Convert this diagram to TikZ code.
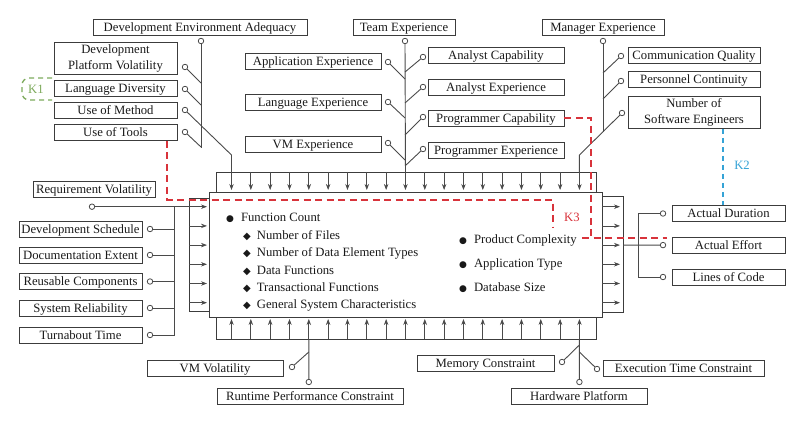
\documentclass[tikz,border=0pt]{standalone}
\usepackage{fontspec}
\setmainfont{Liberation Serif}
\newfontfamily\symf{DejaVu Sans}
\usetikzlibrary{arrows.meta}
\definecolor{boxgray}{HTML}{3C3C3C}
\definecolor{wiregray}{HTML}{4A4A4A}
\definecolor{kred}{HTML}{D8333B}
\definecolor{kgreen}{HTML}{7DAA5C}
\definecolor{kblue}{HTML}{35A3D6}
\newcommand{\bul}{{\symf\fontsize{9}{9}\selectfont ●}\hspace{7pt}}
\newcommand{\dmd}{{\symf\fontsize{10}{10}\selectfont ◆}\hspace{6pt}}
\tikzset{
    factor/.style={draw=boxgray, line width=0.9pt, inner sep=0pt, minimum height=16pt, text height=10pt, text depth=1.5pt, text=black!90},
    twoline/.style={factor, align=center, text height=, text depth=2pt, minimum height=32pt, font=\fontsize{12.7}{16.5}\selectfont},
    hole/.style={circle, draw=wiregray, line width=0.8pt, fill=white, inner sep=0pt, minimum size=5.5pt},
    wire/.style={draw=wiregray, line width=0.9pt},
    feed/.style={draw=wiregray, line width=0.7pt, -{Stealth[length=6pt,width=4.4pt]}},
    frame/.style={draw=boxgray, line width=0.9pt},
    item/.style={anchor=west, inner sep=0pt, text=black!90},
    kthree/.style={draw=kred, line width=1.8pt, dash pattern=on 7pt off 4.5pt},
    ktwo/.style={draw=kblue, line width=1.4pt, dash pattern=on 5pt off 4pt},
    kone/.style={draw=kgreen, line width=1.3pt, dash pattern=on 5pt off 4pt}
}
\begin{document}
\begin{tikzpicture}[x=1pt,y=-1pt,font=\fontsize{12.7}{15}\selectfont]
        \useasboundingbox (0,0) rectangle (800,422);
        \draw[frame] (216,172) rectangle (596,192);
        \draw[frame] (216,317) rectangle (596,339);
        \draw[frame] (189,198) rectangle (209,311);
        \draw[frame] (602,196) rectangle (623,312);
        \node[draw=boxgray, line width=0.9pt, minimum width=393pt, minimum height=125pt] (core) at (405.5,254.5) {};
        \foreach \i in {0,...,18} {
            \coordinate (t\i) at ({231.5+19.33*\i},172);
            \coordinate (b\i) at ({231.5+19.33*\i},339);
            \draw[feed] (t\i) -- ++(0,18);
            \draw[feed] (b\i) -- ++(0,-20);
        }
        \foreach \j in {0,...,5} {
            \coordinate (l\j) at (189,{206.7+19.2*\j});
            \coordinate (rs\j) at (602,{206.7+19.2*\j});
            \coordinate (r\j) at (623,{206.7+19.2*\j});
            \draw[feed] (l\j) -- ++(18,0);
            \draw[feed] (rs\j) -- ++(18,0);
        }
        \node[item] (fc) at (226,218) {\bul Function Count};
        \node[item] (nfiles) at (243,235.5) {\dmd Number of Files};
        \node[item] (ndet) at (243,253) {\dmd Number of Data Element Types};
        \node[item] (dfun) at (243,270.5) {\dmd Data Functions};
        \node[item] (tfun) at (243,288) {\dmd Transactional Functions};
        \node[item] (gsc) at (243,305.5) {\dmd General System Characteristics};
        \node[item] (pcx) at (459,240) {\bul Product Complexity};
        \node[item] (atype) at (459,264) {\bul Application Type};
        \node[item] (dbsize) at (459,288) {\bul Database Size};
        \node[factor, minimum width=214pt] (devenv) at (200,27) {Development Environment Adequacy};
        \node[factor, minimum width=102pt] (teamexp) at (404,27) {Team Experience};
        \node[factor, minimum width=122pt] (mgrexp) at (603,27) {Manager Experience};
        \node[twoline, minimum width=123pt] (devplat) at (115.5,58) {Development\\Platform Volatility};
        \node[factor, minimum width=123pt] (langdiv) at (115.5,88.5) {Language Diversity};
        \node[factor, minimum width=123pt] (usemeth) at (115.5,110) {Use of Method};
        \node[factor, minimum width=123pt] (usetools) at (115.5,132) {Use of Tools};
        \node[factor, minimum width=136pt] (appexp) at (313,61) {Application Experience};
        \node[factor, minimum width=136pt] (langexp) at (313,102) {Language Experience};
        \node[factor, minimum width=136pt] (vmexp) at (313,144) {VM Experience};
        \node[factor, minimum width=136pt] (anacap) at (496,55) {Analyst Capability};
        \node[factor, minimum width=136pt] (anaexp) at (496,87) {Analyst Experience};
        \node[factor, minimum width=136pt] (progcap) at (496,118) {Programmer Capability};
        \node[factor, minimum width=136pt] (progexp) at (496,150) {Programmer Experience};
        \node[factor, minimum width=132pt] (commq) at (694,55.5) {Communication Quality};
        \node[factor, minimum width=132pt] (perscont) at (694,79.5) {Personnel Continuity};
        \node[twoline, minimum width=132pt] (numse) at (694,112) {Number of\\Software Engineers};
        \node[factor, minimum width=122pt] (reqvol) at (94,189.5) {Requirement Volatility};
        \node[factor, minimum width=123pt] (devsched) at (80.5,229) {Development Schedule};
        \node[factor, minimum width=123pt] (docext) at (80.5,255) {Documentation Extent};
        \node[factor, minimum width=123pt] (reuse) at (80.5,281.5) {Reusable Components};
        \node[factor, minimum width=123pt] (sysrel) at (80.5,308) {System Reliability};
        \node[factor, minimum width=123pt] (turn) at (80.5,335) {Turnabout Time};
        \node[factor, minimum width=113pt] (actdur) at (728.5,213.5) {Actual Duration};
        \node[factor, minimum width=113pt] (acteff) at (728.5,245.5) {Actual Effort};
        \node[factor, minimum width=113pt] (loc) at (728.5,277) {Lines of Code};
        \node[factor, minimum width=136pt] (vmvol) at (215,368.5) {VM Volatility};
        \node[factor, minimum width=186pt] (runtime) at (310,396) {Runtime Performance Constraint};
        \node[factor, minimum width=137pt] (memcon) at (485.5,363.5) {Memory Constraint};
        \node[factor, minimum width=136pt] (hwplat) at (579,396) {Hardware Platform};
        \node[factor, minimum width=161pt] (exectime) at (683.5,368.5) {Execution Time Constraint};
        \node[hole] (devenv-h) at (201,41) {};
        \node[hole] (devplat-h) at (185,67) {};
        \node[hole] (langdiv-h) at (185,89) {};
        \node[hole] (usemeth-h) at (185,110) {};
        \node[hole] (usetools-h) at (185,132) {};
        \coordinate (devenv-j) at (201,148);
        \coordinate (devplat-j) at (201,83);
        \coordinate (langdiv-j) at (201,105);
        \coordinate (usetools-j) at (201,147);
        \coordinate (usemeth-j) at (231.5,155);
        \draw[wire] (devenv-h) -- (devenv-j);
        \draw[wire] (devplat-h) -- (devplat-j);
        \draw[wire] (langdiv-h) -- (langdiv-j);
        \draw[wire] (usetools-h) -- (usetools-j);
        \draw[wire] (usemeth-h) -- (usemeth-j) -- (t0);
        \node[hole] (teamexp-h) at (405,41) {};
        \node[hole] (appexp-h) at (388,62) {};
        \node[hole] (langexp-h) at (388,102) {};
        \node[hole] (vmexp-h) at (388,143) {};
        \node[hole] (anacap-h) at (423,57) {};
        \node[hole] (anaexp-h) at (423,87) {};
        \node[hole] (progcap-h) at (423,117) {};
        \node[hole] (progexp-h) at (423,149) {};
        \draw[wire] (teamexp-h) -- (t9);
        \draw[wire] (appexp-h) -- (405,79);
        \draw[wire] (langexp-h) -- (405,118);
        \draw[wire] (vmexp-h) -- (405,160);
        \draw[wire] (anacap-h) -- (405,72);
        \draw[wire] (anaexp-h) -- (405,103);
        \draw[wire] (progcap-h) -- (405,135);
        \draw[wire] (progexp-h) -- (405,166);
        \node[hole] (mgrexp-h) at (603,41) {};
        \node[hole] (commq-h) at (621,56) {};
        \node[hole] (perscont-h) at (621,81) {};
        \node[hole] (numse-h) at (622,113) {};
        \coordinate (mgrexp-j) at (603,131.6);
        \coordinate (numse-j) at (579.4,155);
        \draw[wire] (mgrexp-h) -- (mgrexp-j);
        \draw[wire] (commq-h) -- (603,73);
        \draw[wire] (perscont-h) -- (603,99);
        \draw[wire] (numse-h) -- (numse-j) -- (t18);
        \node[hole] (reqvol-h) at (92,206.7) {};
        \node[hole] (devsched-h) at (150,229) {};
        \node[hole] (docext-h) at (150,255) {};
        \node[hole] (reuse-h) at (150,281.5) {};
        \node[hole] (sysrel-h) at (150,308) {};
        \node[hole] (turn-h) at (150,335) {};
        \coordinate (inbus) at (174,206.7);
        \draw[wire] (reqvol-h) -- (l0);
        \draw[wire] (turn-h) -| (inbus);
        \draw[wire] (devsched-h) -- (devsched-h -| inbus);
        \draw[wire] (docext-h) -- (docext-h -| inbus);
        \draw[wire] (reuse-h) -- (reuse-h -| inbus);
        \draw[wire] (sysrel-h) -- (sysrel-h -| inbus);
        \node[hole] (actdur-h) at (663,213.5) {};
        \node[hole] (acteff-h) at (663,245.1) {};
        \node[hole] (loc-h) at (663,277) {};
        \coordinate (outbus-top) at (638,213.5);
        \coordinate (outbus-bot) at (638,277);
        \draw[wire] (r2) -- (acteff-h);
        \draw[wire] (actdur-h) -- (outbus-top) -- (outbus-bot) -- (loc-h);
        \node[hole] (vmvol-h) at (292,367) {};
        \node[hole] (runtime-h) at (308.8,382) {};
        \node[hole] (memcon-h) at (562,362) {};
        \node[hole] (hwplat-h) at (579.4,382) {};
        \node[hole] (exectime-h) at (597,369) {};
        \draw[wire] (runtime-h) -- (b4);
        \draw[wire] (vmvol-h) -- (308.8,352);
        \draw[wire] (hwplat-h) -- (b18);
        \draw[wire] (memcon-h) -- (579.4,345);
        \draw[wire] (exectime-h) -- (579.4,352);
        \coordinate (k3a) at (167,141);
        \coordinate (k3b) at (553,200);
        \coordinate (k3c) at (553,228);
        \coordinate (k3d) at (591,238);
        \draw[kthree] (k3a) |- (k3b) -- (k3c);
        \draw[kthree] (progcap.east) -| (k3d);
        \draw[kthree] (582,238) -- (667,238);
        \node[text=kred] (k3) at (572,217) {K3};
        \coordinate (k2a) at (723,129);
        \coordinate (k2b) at (723,205);
        \draw[ktwo] (k2a) -- (k2b);
        \node[text=kblue] (k2) at (742,165) {K2};
        \draw[kone, rounded corners=7pt] (52,78) -- (22,78) -- (22,100) -- (52,100);
        \node[text=kgreen] (k1) at (36,89) {K1};
    \end{tikzpicture}
\end{document}
